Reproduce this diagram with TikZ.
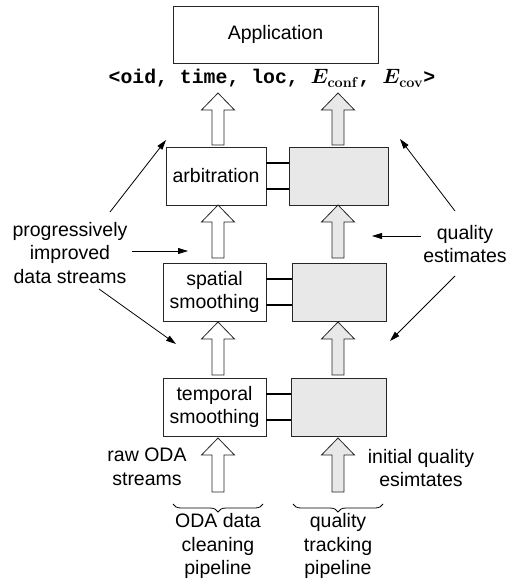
\documentclass[tikz,border=0pt]{standalone}
\usepackage{amsmath}
\usepackage{bm}
\usepackage[no-math]{fontspec}
\setmainfont{Liberation Sans}
\newfontfamily\monof{Liberation Mono}
\usetikzlibrary{arrows.meta,decorations.pathreplacing,calc}
\definecolor{qgray}{RGB}{232,232,232}
\newcommand\fatarrow[4]{%
  \draw[fatline, fill=#1] (#2-6,#4) -- (#2-6,#3+17) -- (#2-16.5,#3+17) -- (#2,#3)
    -- (#2+16.5,#3+17) -- (#2+6,#3+17) -- (#2+6,#4) -- cycle;}
\begin{document}
\begin{tikzpicture}[x=1pt,y=-1pt,
  box/.style={draw=black!85, line width=0.8pt, inner sep=0pt},
  qbox/.style={box, fill=qgray},
  lbl/.style={font=\fontsize{19.5}{23.5}\selectfont, align=center, inner sep=0pt},
  link/.style={line width=2.3pt},
  fatline/.style={line width=0.8pt, draw=black!85},
  pointer/.style={line width=0.8pt, -{Triangle[length=10pt,width=6pt]}},
  brc/.style={decorate, decoration={brace, amplitude=8pt}, line width=0.8pt}]
\useasboundingbox (0,0) rectangle (515,583);

% boxes
\node[box, lbl, minimum width=205pt, minimum height=57pt] (app) at (275.5,34.5) {Application};
\node[box, lbl, minimum width=100pt, minimum height=58pt] (arb) at (216,176) {arbitration};
\node[qbox, minimum width=99pt, minimum height=58pt] (arbQ) at (338.5,176) {};
\node[box, lbl, minimum width=103pt, minimum height=58pt] (spa) at (214.5,292) {spatial\\smoothing};
\node[qbox, minimum width=94pt, minimum height=58pt] (spaQ) at (339,292) {};
\node[box, lbl, minimum width=103pt, minimum height=58pt] (tem) at (214.5,407) {temporal\\smoothing};
\node[qbox, minimum width=95pt, minimum height=58pt] (temQ) at (338.5,407) {};

% links between pipelines
\foreach \n in {arb,spa,tem}{
  \draw[link] ($(\n.east)+(0,-13)$) -- ($(\n Q.west)+(0,-13)$);
  \draw[link] ($(\n.east)+(0,13)$) -- ($(\n Q.west)+(0,13)$);
}

% tuple
\node[anchor=base, inner sep=0pt, font=\monof\bfseries\fontsize{19.8}{22}\selectfont] (tuple) at (272,84)
  {<oid, time, loc, $\bm{E}_{\mathbf{conf}}$, $\bm{E}_{\mathbf{cov}}$>};

% fat arrows
\fatarrow{white}{218}{93}{145}
\fatarrow{qgray}{338}{93}{145}
\fatarrow{white}{218}{205}{258}
\fatarrow{qgray}{338}{205}{258}
\fatarrow{white}{218}{322}{375}
\fatarrow{qgray}{338}{322}{375}
\fatarrow{white}{218}{438}{492}
\fatarrow{qgray}{338}{438}{492}

% side labels
\node[lbl] (prog) at (70,253) {progressively\\improved\\data streams};
\node[lbl] (qual) at (465,244) {quality\\estimates};
\node[lbl] (raw) at (147,467) {raw ODA\\streams};
\node[lbl] (init) at (421,468) {initial quality\\esimtates};

\coordinate (p1) at (110,212); \coordinate (p1t) at (166,140);
\coordinate (p2) at (132,251); \coordinate (p2t) at (188,251);
\coordinate (p3) at (99,289);  \coordinate (p3t) at (176,344);
\coordinate (q1) at (455,211); \coordinate (q1t) at (400,139);
\coordinate (q2) at (421,236); \coordinate (q2t) at (372,236);
\coordinate (q3) at (455,276); \coordinate (q3t) at (390,341);
\draw[pointer] (p1) -- (p1t);
\draw[pointer] (p2) -- (p2t);
\draw[pointer] (p3) -- (p3t);
\draw[pointer] (q1) -- (q1t);
\draw[pointer] (q2) -- (q2t);
\draw[pointer] (q3) -- (q3t);

% braces and pipeline labels
\coordinate (bl1) at (263,504); \coordinate (bl2) at (173,504);
\coordinate (br1) at (383,504); \coordinate (br2) at (293,504);
\draw[brc] (bl1) -- (bl2);
\draw[brc] (br1) -- (br2);
\node[lbl] (odaP) at (218,546) {ODA data\\cleaning\\pipeline};
\node[lbl] (qP) at (338,546) {quality\\tracking\\pipeline};
\end{tikzpicture}
\end{document}
